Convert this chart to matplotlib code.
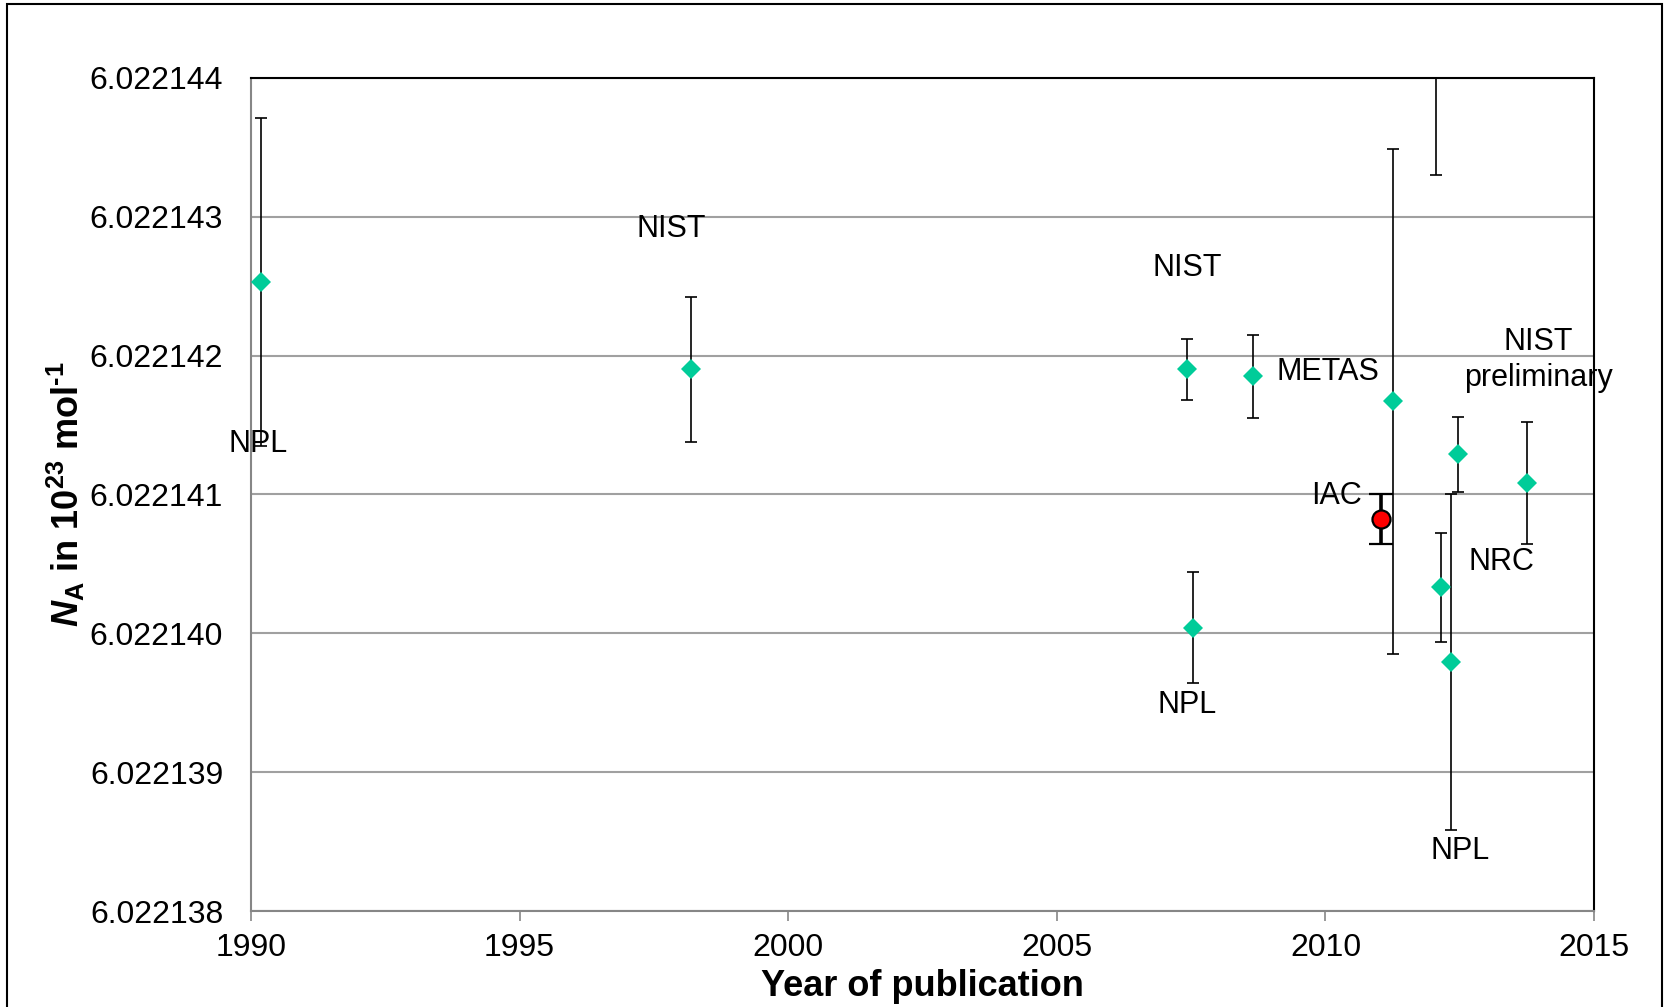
import matplotlib
matplotlib.use('Agg')
import matplotlib.pyplot as plt
from matplotlib.patches import Rectangle
from matplotlib.ticker import FormatStrFormatter

plt.rcParams['font.family'] = ['Liberation Sans', 'DejaVu Sans']
plt.rcParams['mathtext.fontset'] = 'custom'
plt.rcParams['mathtext.rm'] = 'Liberation Sans:bold'
plt.rcParams['mathtext.it'] = 'Liberation Sans:bold:italic'
plt.rcParams['mathtext.bf'] = 'Liberation Sans:bold'

# watt balance / other results
years = [1990.19, 1998.20, 2007.43, 2007.54, 2008.65, 2011.25, 2012.05, 2012.15, 2012.34, 2012.46, 2013.76]
values = [6.02214253, 6.02214190, 6.02214190, 6.02214004, 6.02214185, 6.02214167,
          6.0221447, 6.02214033, 6.02213979, 6.02214129, 6.02214108]
errors = [1.18e-6, 0.52e-6, 0.22e-6, 0.40e-6, 0.30e-6, 1.82e-6,
          1.40e-6, 0.39e-6, 1.21e-6, 0.27e-6, 0.44e-6]

# IAC result
iac_year = [2011.04]
iac_value = [6.02214082]
iac_error = [0.18e-6]

# labels (text, year, value)
label_text = ['NPL', 'NIST', 'NIST', 'METAS', 'NIST\npreliminary', 'IAC', 'NRC', 'NPL', 'NPL']
label_x = [1990.13, 1997.83, 2007.43, 2010.04, 2013.97, 2010.2, 2013.28, 2007.43, 2012.50]
label_y = [6.02214136, 6.02214291, 6.02214263, 6.02214188, 6.02214197, 6.02214099,
           6.02214051, 6.02213948, 6.02213843]

x_ticks = [1990, 1995, 2000, 2005, 2010, 2015]
y_ticks = [6.022138, 6.022139, 6.022140, 6.022141, 6.022142, 6.022143, 6.022144]

fig = plt.figure(figsize=(16.65, 10.07), dpi=100)
ax = fig.add_axes([0.1507, 0.0953, 0.8067, 0.8275])

ax.errorbar(years, values, yerr=errors, fmt='none', ecolor='black', elinewidth=1.2,
            capsize=4.5, capthick=1.2, zorder=3)
ax.plot(years, values, 'D', color='#00CC99', markersize=10.5, markeredgewidth=0, zorder=4)
ax.errorbar(iac_year, iac_value, yerr=iac_error, fmt='o', markerfacecolor='#FF0000',
            markeredgecolor='black', markeredgewidth=1.6, markersize=13, ecolor='black',
            elinewidth=2.6, capsize=8.5, capthick=2.6, zorder=5)

for t, x, y in zip(label_text, label_x, label_y):
    ax.text(x, y, t, fontsize=22, ha='center', va='center', linespacing=1.25, zorder=6)

ax.set_xlim(1990, 2015)
ax.set_ylim(6.022138, 6.022144)
ax.set_xticks(x_ticks)
ax.set_yticks(y_ticks)
ax.yaxis.set_major_formatter(FormatStrFormatter('%.6f'))
ax.grid(axis='y', color='#a0a0a0', linewidth=1.5)
ax.set_axisbelow(True)

ax.tick_params(axis='y', length=0, pad=20, labelsize=23)
ax.tick_params(axis='x', length=7.5, width=1.2, color='#868686', pad=8, labelsize=23)

for s in ['left', 'bottom']:
    ax.spines[s].set_color('#868686')
    ax.spines[s].set_linewidth(1.5)
for s in ['top', 'right']:
    ax.spines[s].set_color('black')
    ax.spines[s].set_linewidth(1.5)

ax.set_xlabel('Year of publication', fontsize=26, fontweight='bold')
ax.xaxis.set_label_coords(0.5, -0.0697)
ax.set_ylabel('$N_{\\mathrm{A}}$ in 10$^{23}$ mol$^{\\mathrm{\u2010 1}}$', fontsize=26, fontweight='bold',
              va='center', ha='center')
ax.yaxis.set_label_coords(-0.1377, 0.5)

# outer frame
fig.add_artist(Rectangle((7 / 1665, -0.02), 1655 / 1665, 1.02 - 3.5 / 1007,
                         transform=fig.transFigure, fill=False, edgecolor='black',
                         linewidth=1.5, clip_on=False))

fig.savefig('out.png', dpi=100)
